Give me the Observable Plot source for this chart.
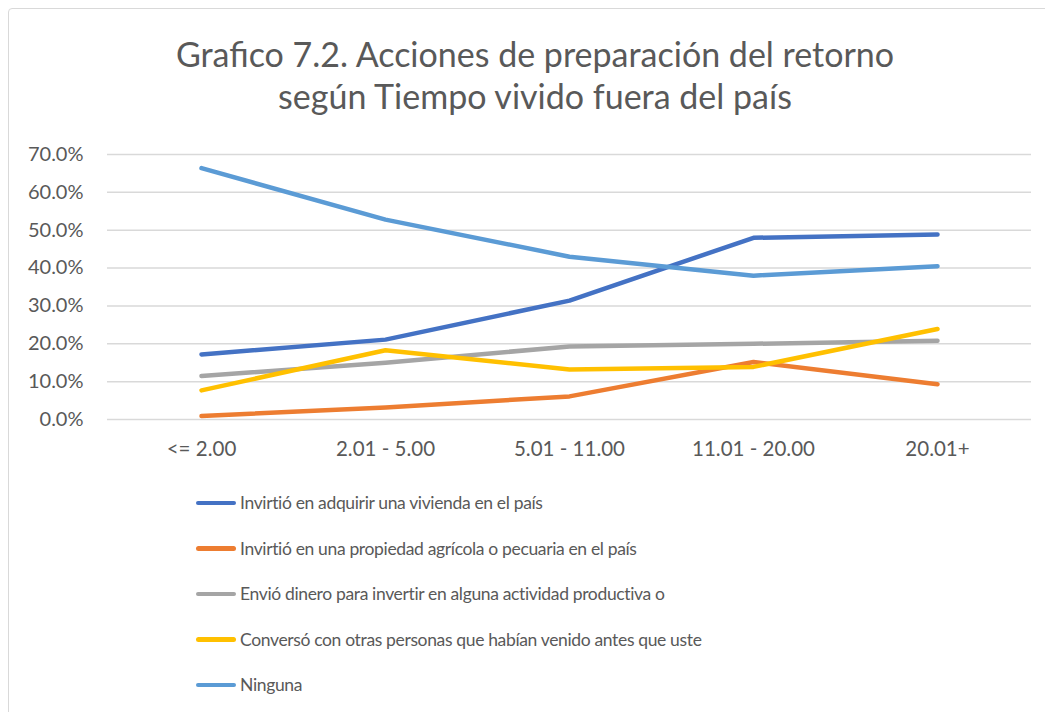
<!DOCTYPE html>
<html>
<head>
<meta charset="utf-8">
<script src="https://cdn.jsdelivr.net/npm/d3@7"></script>
<script src="https://cdn.jsdelivr.net/npm/@observablehq/plot@0.6"></script>
<style>
  html, body { margin: 0; padding: 0; background: #fff; }
  #wrap { position: relative; width: 1045px; height: 712px; overflow: hidden; font-family: Lato, "Open Sans", sans-serif; color: #595959; }
  #frame { position: absolute; left: 8px; top: 8px; width: 1060px; height: 720px; border: 1px solid #d9d9d9; border-radius: 4px; }
  #title { position: absolute; left: 0; top: 33px; width: 1070px; text-align: center; font-size: 34px; line-height: 42px; color: #595959; }
  #chart { position: absolute; left: 0; top: 140px; }
  #legend { position: absolute; left: 196px; top: 480px; }
  .item { height: 45.5px; display: flex; align-items: center; font-size: 17.5px; letter-spacing: -0.35px; color: #595959; }
  .swatch { display: inline-block; width: 40px; height: 4.5px; border-radius: 3px; margin-right: 4px; }
</style>
</head>
<body>
<div id="wrap">
  <div id="frame"></div>
  <div id="title">Grafico 7.2. Acciones de preparación del retorno<br>según Tiempo vivido fuera del país</div>
  <div id="chart"></div>
  <div id="legend"></div>
</div>
<script>
const categories = ["<= 2.00", "2.01 - 5.00", "5.01 - 11.00", "11.01 - 20.00", "20.01+"];
const seriesNames = [
  "Invirtió en adquirir una vivienda en el país",
  "Invirtió en una propiedad agrícola o pecuaria en el país",
  "Envió dinero para invertir en alguna actividad productiva o",
  "Conversó con otras personas que habían venido antes que uste",
  "Ninguna"
];
const seriesColors = ["#4472C4", "#ED7D31", "#A5A5A5", "#FFC000", "#5B9BD5"];
const vivienda = [17.2, 21.1, 31.4, 48.0, 48.9];
const agricola = [0.9, 3.2, 6.1, 15.2, 9.3];
const envio = [11.5, 15.0, 19.3, 20.0, 20.8];
const converso = [7.7, 18.3, 13.2, 13.9, 23.9];
const ninguna = [66.4, 52.8, 43.0, 38.0, 40.5];
const yTicks = [0, 0.1, 0.2, 0.3, 0.4, 0.5, 0.6, 0.7];

const allValues = [vivienda, agricola, envio, converso, ninguna];
const data = [];
allValues.forEach((vals, i) => {
  vals.forEach((v, j) => data.push({series: seriesNames[i], cat: categories[j], value: v / 100}));
});

const plot = Plot.plot({
  width: 1045,
  height: 320,
  marginTop: 14,
  marginBottom: 41,
  marginLeft: 107,
  marginRight: 14,
  style: {fontFamily: "Lato, 'Open Sans', sans-serif", fontSize: "20px", color: "#595959", background: "transparent"},
  x: {type: "point", domain: categories, padding: 0.5, label: null},
  y: {domain: [0, 0.7], label: null},
  color: {domain: seriesNames, range: seriesColors},
  marks: [
    Plot.gridY(yTicks, {stroke: "#d9d9d9", strokeOpacity: 1, strokeWidth: 1.5}),
    Plot.axisX({tickSize: 0, tickPadding: 22, fontSize: 20.5, fill: "#595959"}),
    Plot.axisY(yTicks, {tickFormat: d3.format(".1%"), tickSize: 0, tickPadding: 24, fontSize: 20, fill: "#595959"}),
    Plot.line(data, {x: "cat", y: "value", z: "series", stroke: "series", strokeWidth: 4.5, strokeLinecap: "round", strokeLinejoin: "round"})
  ]
});
document.getElementById("chart").appendChild(plot);

const legend = document.getElementById("legend");
seriesNames.forEach((name, i) => {
  const item = document.createElement("div");
  item.className = "item";
  const sw = document.createElement("span");
  sw.className = "swatch";
  sw.style.background = seriesColors[i];
  item.appendChild(sw);
  const t = document.createElement("span");
  t.textContent = name;
  item.appendChild(t);
  legend.appendChild(item);
});
</script>
</body>
</html>
